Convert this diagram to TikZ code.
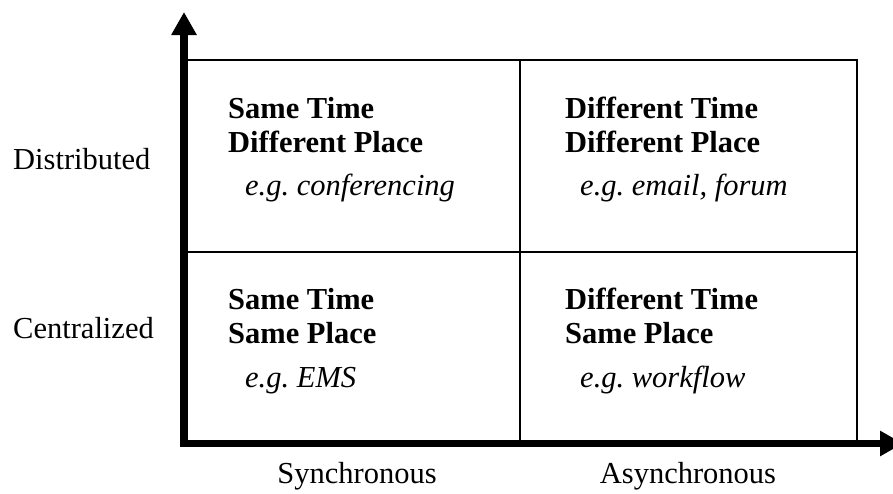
\documentclass[tikz,border=0pt]{standalone}
\usepackage{fontspec}
\setmainfont{Liberation Serif}
\usetikzlibrary{arrows.meta}
\begin{document}
\begin{tikzpicture}[x=1pt,y=-1pt,
  cell/.style={draw,line width=2.3pt,inner sep=0pt,minimum width=#1,minimum height=192pt},
  axis/.style={line width=7.5pt,-{Triangle[length=23pt,width=24pt]}},
  lbl/.style={inner sep=0pt,anchor=base west,font=\fontsize{30.5}{34}\selectfont},
  head/.style={lbl,font=\fontsize{30.5}{34}\selectfont\bfseries},
  ex/.style={lbl,font=\fontsize{30.5}{34}\selectfont\itshape},
  axlbl/.style={inner sep=0pt,anchor=base,font=\fontsize{30.5}{34}\selectfont}]
\useasboundingbox (0,0) rectangle (893,493);
\clip (0,0) rectangle (893,493);
% cells
\node[cell=336pt] (c1) at (352,156) {};
\node[cell=337pt] (c2) at (688.5,156) {};
\node[cell=336pt,minimum height=191pt] (c3) at (352,347.5) {};
\node[cell=337pt,minimum height=191pt] (c4) at (688.5,347.5) {};
% axes
\coordinate (origin) at (184,447);
\coordinate (ytip) at (184,12);
\coordinate (xstart) at (180,443.5);
\coordinate (xtip) at (903,443.5);
\draw[axis] (origin) -- (ytip);
\draw[axis] (xstart) -- (xtip);
% cell texts
\node[head] (t1a) at (228,118) {Same Time};
\node[head] (t1b) at (228,152) {Different Place};
\node[ex]   (t1c) at (245,195) {e.g.\ conferencing};
\node[head] (t2a) at (565,118) {Different Time};
\node[head] (t2b) at (565,152) {Different Place};
\node[ex]   (t2c) at (580,195) {e.g.\ email, forum};
\node[head] (t3a) at (228,309) {Same Time};
\node[head] (t3b) at (228,343) {Same Place};
\node[ex]   (t3c) at (245,387) {e.g.\ EMS};
\node[head] (t4a) at (565,309) {Different Time};
\node[head] (t4b) at (565,343) {Same Place};
\node[ex]   (t4c) at (580,387) {e.g.\ workflow};
% axis labels
\node[lbl] (dist) at (13,169) {Distributed};
\node[lbl] (cent) at (13,338) {Centralized};
\node[axlbl] (sync) at (357,483) {Synchronous};
\node[axlbl] (async) at (688,483) {Asynchronous};
\end{tikzpicture}
\end{document}
